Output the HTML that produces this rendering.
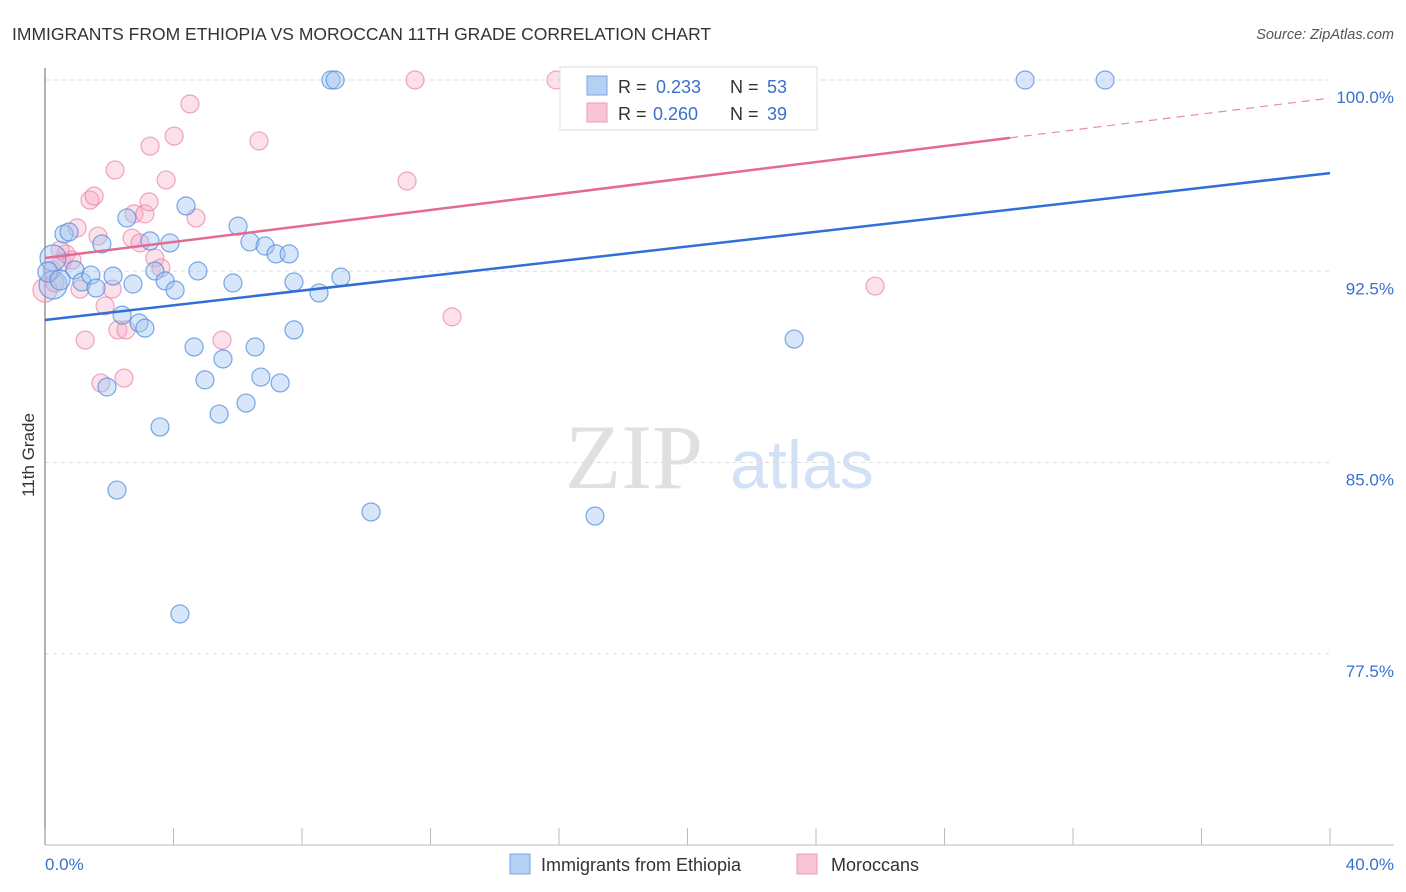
<!DOCTYPE html>
<html><head><meta charset="utf-8"><style>
body{margin:0;background:#fff;font-family:"Liberation Sans",sans-serif;}
svg{display:block}
</style></head><body>
<svg width="1406" height="892" xmlns="http://www.w3.org/2000/svg">
<text x="12" y="40" font-size="17.5" fill="#333">IMMIGRANTS FROM ETHIOPIA VS MOROCCAN 11TH GRADE CORRELATION CHART</text>
<text x="1394" y="39" font-size="14.5" fill="#555" text-anchor="end" font-style="italic">Source: ZipAtlas.com</text>
<g>
<text x="634" y="488" font-size="92" fill="#e0e0e0" font-family="Liberation Serif,serif" text-anchor="middle">ZIP</text>
<text x="802" y="488" font-size="68" fill="#d2e1f5" text-anchor="middle">atlas</text>
</g>
<g id="grid"></g>
<g id="axes"></g>
<g id="marks"></g>
<g id="trends"></g>
<text transform="translate(34,455) rotate(-90)" font-size="17" fill="#333" text-anchor="middle">11th Grade</text>
<text x="45" y="870" font-size="17" fill="#3a6fd0">0.0%</text>
<text x="1394" y="870" font-size="17" fill="#3a6fd0" text-anchor="end">40.0%</text>
<g>
<rect x="560" y="67" width="257" height="63" fill="#fff" stroke="#ddd"/>
<rect x="587" y="76" width="20" height="19" fill="#b5d0f5" stroke="#7aa6e4"/>
<rect x="587" y="103" width="20" height="19" fill="#f9c5d5" stroke="#ec9ab4"/>
<text x="618" y="93" font-size="18" fill="#333">R = <tspan x="656" fill="#3a6fd0">0.233</tspan><tspan x="730">N = </tspan><tspan x="767" fill="#3a6fd0">53</tspan></text>
<text x="618" y="120" font-size="18" fill="#333">R = <tspan x="653" fill="#3a6fd0">0.260</tspan><tspan x="730">N = </tspan><tspan x="767" fill="#3a6fd0">39</tspan></text>
</g>
<g>
<rect x="510" y="854" width="20" height="20" fill="#b5d0f5" stroke="#7aa6e4"/>
<text x="541" y="871" font-size="18" fill="#333">Immigrants from Ethiopia</text>
<rect x="797" y="854" width="20" height="20" fill="#f9c5d5" stroke="#ec9ab4"/>
<text x="831" y="871" font-size="18" fill="#333">Moroccans</text>
</g>
</svg>
<script>
const yTicks=[100,92.5,85,77.5];
const yTickLabels=["100.0%","92.5%","85.0%","77.5%"];
const xTicks=[0,4,8,12,16,20,24,28,32,36,40];
const blueX=[0.25,0.25,0.59,0.75,0.93,1.15,1.43,1.59,1.77,1.93,2.12,2.24,2.40,2.55,2.74,2.93,3.11,3.27,3.42,3.58,3.74,3.89,4.05,4.20,4.39,4.64,4.76,4.98,5.42,5.54,5.85,6.01,6.26,6.38,6.54,6.72,6.85,7.19,7.32,7.60,7.75,7.75,8.53,8.90,9.03,9.21,10.15,17.12,23.32,30.51,33.0,0.09,0.47];
const blueY=[93.02,91.96,93.96,94.04,92.55,92.08,92.35,91.84,93.57,87.96,92.31,83.92,90.78,94.59,92.0,90.47,90.27,93.69,92.51,86.39,92.12,93.61,91.76,79.06,95.06,89.53,92.51,88.24,86.90,89.06,92.04,94.27,87.33,93.65,89.53,88.35,93.49,93.18,88.12,93.18,92.08,90.20,91.65,100,100,92.27,83.06,82.90,89.84,100,100,92.47,92.16];
const blueR=[13,14,9,9,9,9,9,9,9,9,9,9,9,9,9,9,9,9,9,9,9,9,9,9,9,9,9,9,9,9,9,9,9,9,9,9,9,9,9,9,9,9,9,9,9,9,9,9,9,9,9,10,10];
const pinkX=[0,0.22,0.31,0.53,0.65,0.84,1.0,1.09,1.25,1.40,1.53,1.65,1.74,1.87,2.09,2.18,2.27,2.46,2.52,2.71,2.77,2.96,3.11,3.24,3.27,3.42,3.61,3.77,4.02,4.51,4.70,5.51,6.66,11.27,11.52,12.67,15.91,25.84,0.47];
const pinkY=[91.76,92.55,92.04,92.86,93.18,92.94,94.20,91.80,89.80,95.29,95.45,93.88,88.12,91.14,91.80,96.47,90.20,88.31,90.20,93.80,94.75,93.61,94.75,95.22,97.41,93.02,92.63,96.08,97.80,99.06,94.59,89.80,97.61,96.04,100,90.71,100,91.92,93.33];
const blueTrend=[[0,90.59],[40,96.35]];
const pinkTrendSolid=[[0,93.02],[30.04,97.73]];
const pinkTrendDash=[[30.04,97.73],[40,99.29]];
const NS="http://www.w3.org/2000/svg";
const X=v=>45+v*(1285/40);
const Y=v=>80+(100-v)*25.5;
function mk(tag,attrs,parent){const e=document.createElementNS(NS,tag);for(const k in attrs)e.setAttribute(k,attrs[k]);document.getElementById(parent).appendChild(e);return e;}
yTicks.forEach((t,i)=>{
 const g=mk('line',{x1:45,x2:1330,y1:Y(t),y2:Y(t),stroke:'#ddd','stroke-dasharray':'4,4'},'grid');
 
 
 const l=mk('text',{x:1394,y:Y(t)+23,'font-size':17,fill:'#3a6fd0','text-anchor':'end'},'grid');
 l.textContent=yTickLabels[i];
 
 
});
const ya=mk('line',{x1:45,x2:45,y1:68,y2:845,stroke:'#999','stroke-width':1.5},'axes');


const xa=mk('line',{x1:45,x2:1394,y1:845,y2:845,stroke:'#bbb'},'axes');


xTicks.forEach(t=>{
 const k=mk('line',{x1:X(t),x2:X(t),y1:828,y2:845,stroke:'#bbb'},'axes');
 
 
});
pinkX.forEach((x,i)=>{
 const c=mk('circle',{cx:X(x),cy:Y(pinkY[i]),r:i==0?12:9,fill:'rgba(246,170,195,0.35)',stroke:'rgba(232,130,165,0.7)','stroke-width':1.2},'marks');
 
 
});
blueX.forEach((x,i)=>{
 const c=mk('circle',{cx:X(x),cy:Y(blueY[i]),r:blueR[i],fill:'rgba(160,196,240,0.42)',stroke:'rgba(80,140,220,0.75)','stroke-width':1.2},'marks');
 
 
});
function tl(p,attrs,name){const l=mk('line',Object.assign({x1:X(p[0][0]),y1:Y(p[0][1]),x2:X(p[1][0]),y2:Y(p[1][1])},attrs),'trends');
 
 }
tl(blueTrend,{stroke:'#2f6fd6','stroke-width':2.5},'ethiopia-trend-line');
tl(pinkTrendSolid,{stroke:'#e46a94','stroke-width':2.5},'moroccan-trend-line');
tl(pinkTrendDash,{stroke:'#e88aaa','stroke-width':1.2,'stroke-dasharray':'8,6'},'moroccan-trend-extension');
</script>
</body></html>
